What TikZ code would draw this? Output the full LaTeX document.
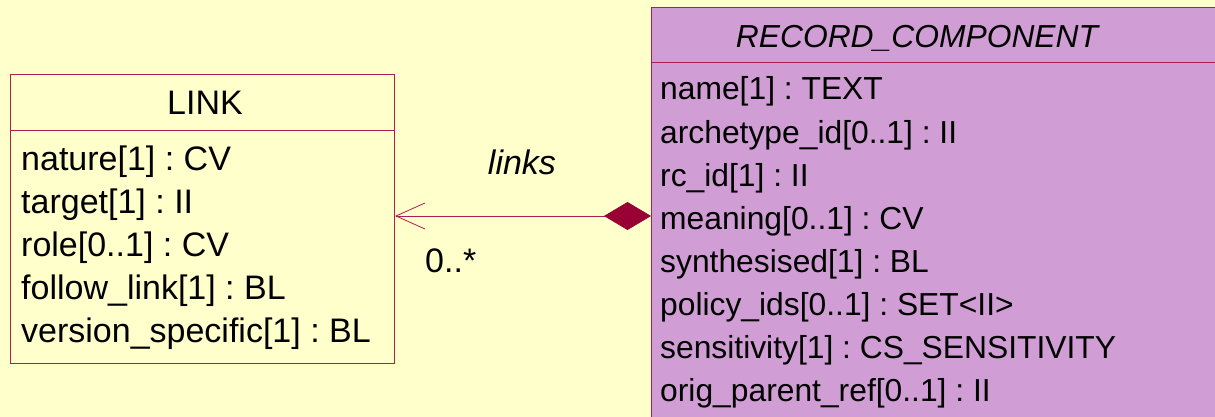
\documentclass[tikz,border=0pt]{standalone}
\usepackage{fontspec}
\setmainfont{Liberation Sans}
\usetikzlibrary{arrows.meta}
\frenchspacing
\definecolor{bgyellow}{RGB}{255,255,204}
\definecolor{rcpurple}{RGB}{208,158,212}
\definecolor{umlline}{RGB}{170,30,80}
\definecolor{diamondred}{RGB}{153,0,51}
\tikzset{
  classbox/.style={draw=umlline, line width=1pt, inner sep=0pt, anchor=north west},
  attr/.style={anchor=base west, inner sep=0pt},
  ctitle/.style={anchor=base, inner sep=0pt},
  rctext/.style={font=\fontsize{31.8}{38}\selectfont},
  assoc/.style={draw=umlline, line width=0.8pt,
    {Diamond[length=47pt,width=28pt,fill=diamondred,color=diamondred]}-{Straight Barb[length=29pt,width=26pt,line width=0.8pt]}},
}
\begin{document}
\begin{tikzpicture}[x=1pt, y=-1pt, font=\fontsize{34}{40}\selectfont]
  \useasboundingbox[fill=bgyellow] (0,0) rectangle (1215,417);
  \clip (0,0) rectangle (1215,417);
  % classes
  \node[classbox, fill=bgyellow, minimum width=384pt, minimum height=289pt] (link) at (10,74) {};
  \node[classbox, fill=rcpurple, minimum width=620pt, minimum height=460pt] (rc) at (651,7) {};
  \draw[umlline, line width=1pt] (link.west |- 0,131) -- (link.east |- 0,131);
  \draw[umlline, line width=1pt] (rc.west |- 0,63) -- (rc.east |- 0,63);
  \node[ctitle] (linktitle) at (205,115) {LINK};
  \node[ctitle, rctext] (rctitle) at (917,48) {\itshape RECORD\_COMPONENT};
  % attributes
  \foreach \txt [count=\i] in {nature[1] : CV, target[1] : II, role[0..1] : CV,
      follow\_link[1] : BL, version\_specific[1] : BL}
    \node[attr] (linkattr\i) at (21,127+43*\i) {\txt};
  \foreach \txt [count=\i] in {name[1] : TEXT, archetype\_id[0..1] : II, rc\_id[1] : II,
      meaning[0..1] : CV, synthesised[1] : BL, policy\_ids[0..1] : SET<II>,
      sensitivity[1] : CS\_SENSITIVITY, orig\_parent\_ref[0..1] : II}
    \node[attr, rctext] (rcattr\i) at (660,57+43*\i) {\txt};
  % association
  \coordinate (linkend) at (link.east |- 0,216);
  \coordinate (rcend) at (rc.west |- 0,216);
  \draw[assoc] (rcend) -- (linkend);
  \node[ctitle] (assocname) at (522,174) {\itshape links};
  \node[attr] (mult) at (425,272) {0..*};
\end{tikzpicture}
\end{document}
